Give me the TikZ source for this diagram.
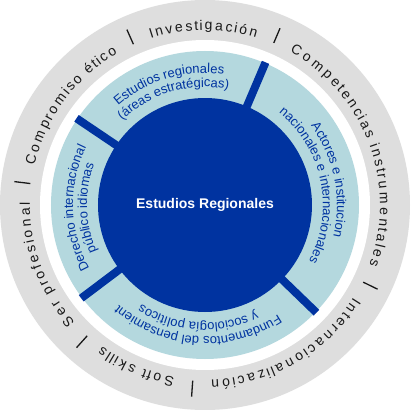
\documentclass[tikz,border=0pt]{standalone}
\usepackage{fontspec}
\setmainfont{Liberation Sans}
\usetikzlibrary{decorations.text}
\definecolor{regblue}{RGB}{0,51,160}
\definecolor{lightblue}{RGB}{180,216,222}
\definecolor{ringgray}{RGB}{222,222,222}

\begin{document}
\begin{tikzpicture}[
  ringlabel/.style={decorate, decoration={text effects along path, text={#1},
    text effects/.cd, fit text to path,
    characters={text along path, inner sep=0pt, text=black!90, font=\fontsize{14}{14}\selectfont}}},
  seglabel/.style={decorate, decoration={text along path, text align=center,
    text={|\fontsize{13}{13}\selectfont\color{regblue}|#1}}},
  ringsep/.style={draw=black!90, line width=1.3pt},
  segbar/.style={draw=regblue, line width=8pt}]
\useasboundingbox[fill=white] (-205pt,-205pt) rectangle (205pt,205pt);
% rings
\fill[ringgray] (0,0) circle[radius=205pt];
\fill[white] (0,0) circle[radius=165pt];
\fill[lightblue] (0,0) circle[radius=154pt];
\fill[regblue] (0,0) circle[radius=107pt];
\node[text=white, font=\bfseries\fontsize{14}{14}\selectfont] (centro) at (0,0) {Estudios Regionales};
% outer ring
\path[ringlabel={Investigación}] (108:175pt) arc[start angle=108, end angle=73, radius=175pt];
\path[ringlabel={Competencias instrumentales}] (61:175pt) arc[start angle=61, end angle=-20, radius=175pt];
\path[ringlabel={Internacionalización}] (-32:175pt) arc[start angle=-32, end angle=-88, radius=175pt];
\path[ringlabel={Soft skills}] (-100:175pt) arc[start angle=-100, end angle=-126, radius=175pt];
\path[ringlabel={Ser profesional}] (222:175pt) arc[start angle=222, end angle=179, radius=175pt];
\path[ringlabel={Compromiso ético}] (167:175pt) arc[start angle=167, end angle=120, radius=175pt];
\draw[ringsep] (114:176pt) -- (114:192pt);
\draw[ringsep] (67:176pt) -- (67:192pt);
\draw[ringsep] (-26:176pt) -- (-26:192pt);
\draw[ringsep] (-94:176pt) -- (-94:192pt);
\draw[ringsep] (228:176pt) -- (228:192pt);
\draw[ringsep] (173:176pt) -- (173:192pt);
% inner segments
\draw[segbar] (67:100pt) -- (67:155pt);
\draw[segbar] (146:100pt) -- (146:155pt);
\draw[segbar] (217:100pt) -- (217:155pt);
\draw[segbar] (-44:100pt) -- (-44:155pt);
\path[seglabel={Estudios regionales}] (146:132pt) arc[start angle=146, end angle=67, radius=132pt];
\path[seglabel={(áreas estratégicas)}] (146:118pt) arc[start angle=146, end angle=67, radius=118pt];
\path[seglabel={Actores e institucion}] (67:132pt) arc[start angle=67, end angle=-44, radius=132pt];
\path[seglabel={nacionales e internacionales}] (67:118pt) arc[start angle=67, end angle=-44, radius=118pt];
\path[seglabel={Fundamentos del pensamient}] (-44:132pt) arc[start angle=-44, end angle=-143, radius=132pt];
\path[seglabel={y sociología políticos}] (-44:118pt) arc[start angle=-44, end angle=-143, radius=118pt];
\path[seglabel={Derecho internacional}] (217:132pt) arc[start angle=217, end angle=146, radius=132pt];
\path[seglabel={público idiomas}] (217:118pt) arc[start angle=217, end angle=146, radius=118pt];
\end{tikzpicture}
\end{document}
